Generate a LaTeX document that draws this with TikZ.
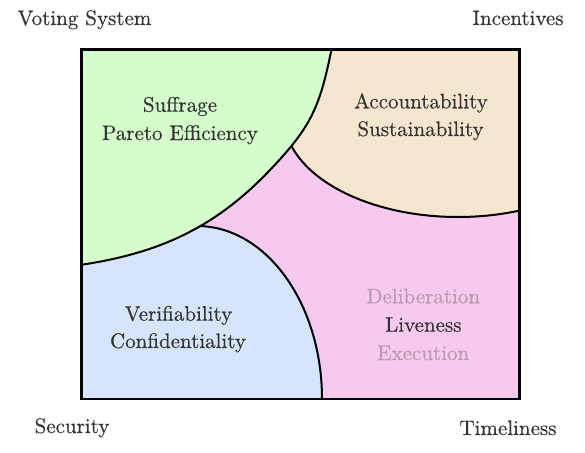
\documentclass[tikz,border=0pt]{standalone}
\usepackage{fontspec}
\newfontfamily\lblfont{lmroman10-regular.otf}[FakeBold=0.35]
\definecolor{gfill}{HTML}{D5FCCB}
\definecolor{ofill}{HTML}{F7E6CF}
\definecolor{pfill}{HTML}{F8C9EE}
\definecolor{bfill}{HTML}{D6E4FD}
\definecolor{txt}{HTML}{333333}
\definecolor{faint}{HTML}{B89BB3}
\begin{document}
\begin{tikzpicture}[x=1pt,y=-1pt,
  lbl/.style={anchor=base, inner sep=0pt, text=txt, font=\lblfont\fontsize{21}{25}\selectfont},
  faintlbl/.style={lbl, text=faint},
  region/.style={draw=black, line width=2pt}]
\useasboundingbox (0,0) rectangle (585,452);
\coordinate (tl) at (81.7,49.5);
\coordinate (br) at (519.5,399);
\begin{scope}
  \clip (tl) rectangle (br);
  \fill[pfill] (tl) rectangle (br);
  \path[region, fill=ofill] (458,117) ellipse [x radius=174, y radius=100];
  \path[region, fill=bfill] (197,399) ellipse [x radius=125, y radius=173];
  \fill[bfill] (60,200) rectangle (197,420);
  \path[region, fill=gfill] (60,30) -- (333,30) -- (331.7,48.3)
    .. controls (319.9,107.2) and (311.3,126.6) .. (270,170)
    .. controls (214.9,227.9) and (159.1,253.2) .. (80,265)
    -- (60,266) -- cycle;
\end{scope}
\draw[line width=2.6pt, black] (tl) rectangle (br);
\node[lbl] (vs) at (84.5,25) {Voting System};
\node[lbl] (inc) at (518,25) {Incentives};
\node[lbl] (sec) at (72,433) {Security};
\node[lbl] (tim) at (508,435) {Timeliness};
\node[lbl] (suf) at (180,111.7) {Suffrage};
\node[lbl] (par) at (180,140) {Pareto Efficiency};
\node[lbl] (acc) at (421,108.3) {Accountability};
\node[lbl] (sus) at (420.5,136) {Sustainability};
\node[lbl] (ver) at (178.5,320.7) {Verifiability};
\node[lbl] (con) at (178,348) {Confidentiality};
\node[faintlbl] (del) at (423.3,303.3) {Deliberation};
\node[lbl] (liv) at (423.3,331.7) {Liveness};
\node[faintlbl] (exe) at (423.3,360) {Execution};
\end{tikzpicture}
\end{document}
